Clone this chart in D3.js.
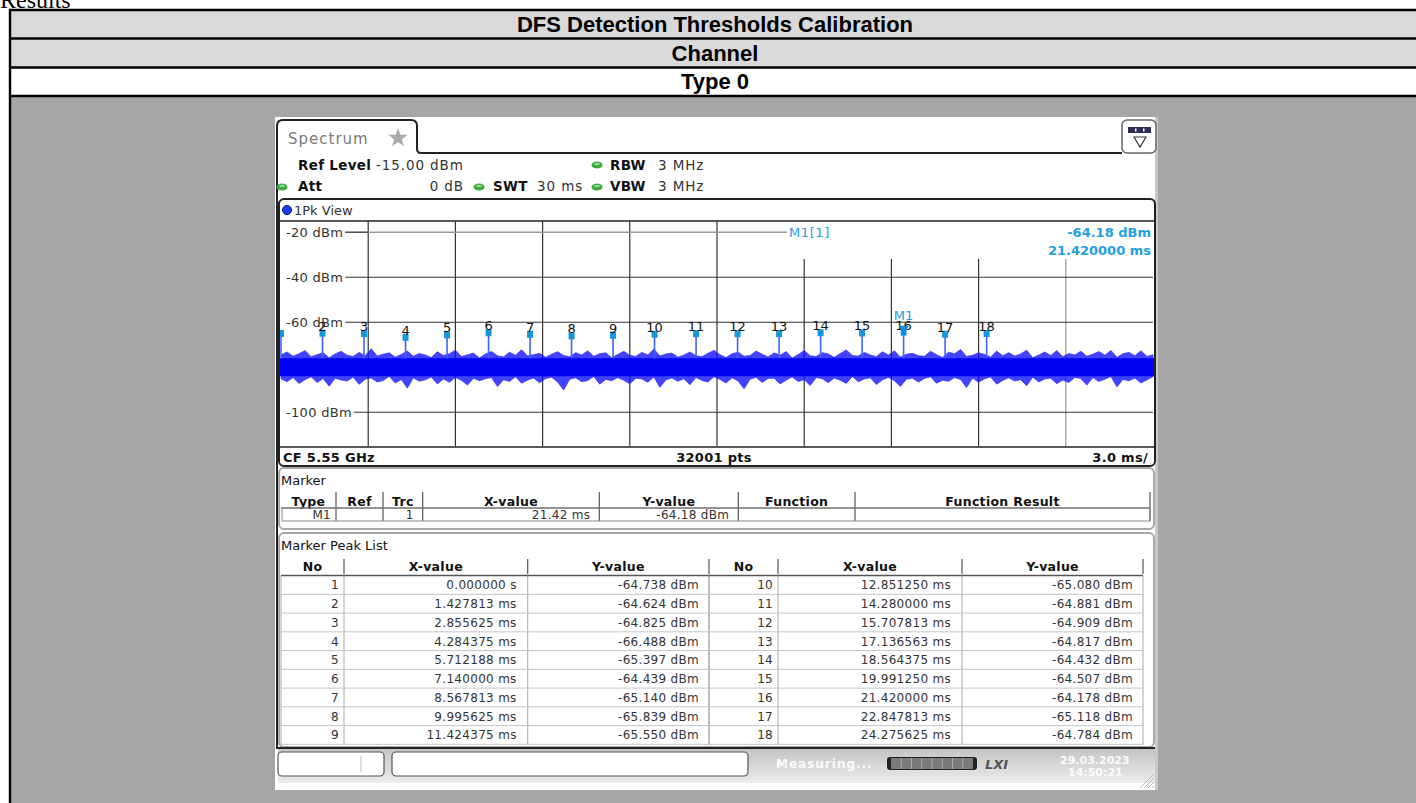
<!DOCTYPE html>
<html>
<head>
<meta charset="utf-8">
<script src="https://cdn.jsdelivr.net/npm/d3@7"></script>
<style>
  html, body { margin: 0; padding: 0; background: #fff; overflow: hidden; }
  svg { display: block; }
</style>
</head>
<body>
<div id="chart"></div>
<script>
// ---- data ----
var titleRows = ["DFS Detection Thresholds Calibration", "Channel", "Type 0"];

var peakNo = [1, 2, 3, 4, 5, 6, 7, 8, 9, 10, 11, 12, 13, 14, 15, 16, 17, 18];
var peakTimeMs = [0, 1.427813, 2.855625, 4.284375, 5.712188, 7.140000, 8.567813, 9.995625, 11.424375,
                  12.851250, 14.280000, 15.707813, 17.136563, 18.564375, 19.991250, 21.420000, 22.847813, 24.275625];
var peakLevelDbm = [-64.738, -64.624, -64.825, -66.488, -65.397, -64.439, -65.140, -65.839, -65.550,
                    -65.080, -64.881, -64.909, -64.817, -64.432, -64.507, -64.178, -65.118, -64.784];

var levelTicks = [-20, -40, -60, -80, -100];
var timeGridMs = [3, 6, 9, 12, 15, 18, 21, 24, 27];

// noise floor: dense core and the envelope of the spikes, read across the 30 ms sweep
var noiseCoreDbm = [-76.0, -84.0];
var noiseUpperDbm = [
  -74.6,-73.2,-75.1,-74.0,-72.6,-75.3,-74.4,-73.5,-75.8,-74.1,
  -72.9,-74.7,-75.2,-73.4,-74.9,-71.8,-75.0,-74.2,-73.6,-75.5,
  -74.3,-72.8,-75.1,-73.9,-74.6,-75.7,-73.1,-74.8,-74.0,-72.4,
  -75.2,-74.5,-73.7,-75.9,-74.1,-73.0,-74.9,-75.4,-73.3,-74.7,
  -72.2,-75.0,-74.4,-73.8,-75.6,-74.2,-73.1,-74.8,-75.3,-73.5,
  -74.6,-72.7,-75.1,-74.0,-73.6,-75.8,-74.3,-72.9,-74.7,-75.2,
  -73.4,-74.5,-71.9,-75.0,-74.1,-73.7,-75.5,-74.6,-73.2,-74.9,
  -75.3,-73.8,-72.5,-74.4,-75.7,-74.0,-73.3,-75.1,-74.8,-72.8,
  -74.2,-75.4,-73.6,-74.7,-73.0,-75.9,-74.3,-72.6,-74.9,-75.2,
  -73.5,-74.1,-75.6,-73.9,-72.3,-74.8,-75.0,-73.4,-74.5,-75.3,
  -73.1,-74.6,-72.7,-75.5,-74.2,-73.8,-74.9,-75.1,-72.9,-74.4,
  -75.7,-73.3,-74.0,-72.1,-75.2,-74.7,-73.6,-74.3,-75.4,-72.8,
  -74.9,-73.5,-75.0,-74.1,-72.4,-75.8,-74.6,-73.2,-74.8,-72.6,
  -75.3,-73.9,-74.5,-72.9,-75.1,-74.2,-73.0,-74.7,-72.5,-75.6,
  -74.0,-73.4,-74.9,-72.7,-75.2,-74.4];
var noiseLowerDbm = [
  -85.1,-86.4,-84.6,-87.2,-85.5,-84.2,-86.8,-85.0,-88.4,-84.9,
  -85.7,-86.1,-84.4,-87.6,-85.3,-84.8,-86.5,-85.9,-84.1,-87.0,
  -85.4,-89.3,-84.7,-86.2,-85.6,-84.3,-87.4,-85.2,-86.7,-84.5,
  -85.8,-87.9,-84.9,-86.0,-85.1,-84.6,-88.6,-85.5,-86.3,-84.2,
  -87.1,-85.7,-84.8,-86.9,-85.0,-84.4,-86.6,-90.1,-85.3,-84.7,
  -86.4,-85.9,-84.1,-87.5,-85.4,-86.0,-84.6,-85.8,-87.3,-84.9,
  -85.2,-86.7,-84.3,-88.9,-85.6,-84.8,-86.2,-85.1,-87.8,-84.5,
  -85.9,-86.5,-84.2,-85.4,-87.0,-84.7,-86.1,-89.6,-85.3,-84.4,
  -86.8,-85.0,-84.9,-87.4,-85.7,-84.3,-86.3,-85.5,-88.1,-84.6,
  -85.1,-86.9,-84.8,-85.8,-87.2,-84.1,-86.4,-85.2,-84.7,-87.7,
  -85.6,-84.5,-86.0,-88.5,-85.3,-84.9,-86.6,-85.0,-84.2,-87.1,
  -85.8,-86.2,-84.6,-85.4,-89.0,-84.8,-86.7,-85.1,-84.3,-87.5,
  -85.9,-84.7,-86.1,-85.5,-88.2,-84.4,-86.5,-85.2,-84.9,-87.3,
  -85.7,-86.8,-84.5,-85.0,-87.9,-84.6,-86.3,-85.3,-84.1,-88.7,
  -85.4,-86.0,-84.8,-87.0,-85.6,-84.2];

var markerColumns = ["Type", "Ref", "Trc", "X-value", "Y-value", "Function", "Function Result"];
var markerValues = ["M1", "", "1", "21.42 ms", "-64.18 dBm", "", ""];
var peakColumns = ["No", "X-value", "Y-value"];
var m1Peak = 16;

// ---- drawing ----
var W = 1416, H = 803;
var inst = '"DejaVu Sans", Verdana, sans-serif';
var loc = d3.formatLocale({ decimal: ".", thousands: ",", grouping: [3], currency: ["", ""], minus: "-" });
var f2 = loc.format(".2f"), f3 = loc.format(".3f"), f6 = loc.format(".6f");

var svg = d3.select("#chart").append("svg").attr("width", W).attr("height", H);
svg.append("rect").attr("width", W).attr("height", H).attr("fill", "#fff");

svg.append("text").attr("x", 0).attr("y", 8)
  .style("font-family", '"Liberation Serif", "Times New Roman", serif')
  .style("font-size", "24px").attr("fill", "#000").text("Results");

// document table
var rowY = [10, 38.5, 67.5, 96, 810];
var rowFill = ["#d9d9d9", "#d9d9d9", "#ffffff", "#a6a6a6"];
rowFill.forEach(function (f, i) {
  svg.append("rect").attr("x", 10).attr("y", rowY[i]).attr("width", W).attr("height", rowY[i + 1] - rowY[i]).attr("fill", f);
});
rowY.slice(0, 4).forEach(function (y) {
  svg.append("line").attr("x1", 9).attr("x2", W).attr("y1", y).attr("y2", y).attr("stroke", "#000").attr("stroke-width", 2.4);
});
svg.append("line").attr("x1", 10).attr("x2", 10).attr("y1", 9).attr("y2", H).attr("stroke", "#000").attr("stroke-width", 2.4);
titleRows.forEach(function (t, i) {
  svg.append("text").attr("x", 715).attr("y", (rowY[i] + rowY[i + 1]) / 2 + 7.5)
    .attr("text-anchor", "middle")
    .style("font-family", '"Liberation Sans", Arial, sans-serif')
    .style("font-size", "22px").style("font-weight", "bold").text(t);
});

// instrument screenshot
var g = svg.append("g").style("font-family", inst);
g.append("rect").attr("x", 275).attr("y", 117).attr("width", 883).attr("height", 673).attr("fill", "#fff");
g.append("rect").attr("x", 1155).attr("y", 117).attr("width", 3).attr("height", 673).attr("fill", "#c8c8c8");

// tab
g.append("path")
  .attr("d", "M277,748 L277,126 Q277,120 283,120 L411,120 Q417,120 417,126 L417,149 Q417,153 421,153 L1122,153")
  .attr("fill", "none").attr("stroke", "#222").attr("stroke-width", 2);
g.append("text").attr("x", 288).attr("y", 144).attr("fill", "#7a7a7a")
  .style("font-size", "15px").style("letter-spacing", "1px").text("Spectrum");
g.append("path").attr("transform", "translate(398,138)")
  .attr("d", d3.symbol(d3.symbolStar, 120)()).attr("fill", "#aaa");

// settings button
g.append("rect").attr("x", 1122).attr("y", 120).attr("width", 34).attr("height", 33).attr("rx", 5)
  .attr("fill", "#fff").attr("stroke", "#666").attr("stroke-width", 1.5);
g.append("rect").attr("x", 1128).attr("y", 127).attr("width", 23).attr("height", 6).attr("fill", "#2d2d55");
[1135, 1143].forEach(function (x) {
  g.append("rect").attr("x", x).attr("y", 128.5).attr("width", 1.5).attr("height", 3).attr("fill", "#fff");
});
g.append("path").attr("d", "M1134,137 L1146,137 L1140,147 Z").attr("fill", "none").attr("stroke", "#333").attr("stroke-width", 1.2);

// settings lines
function dot(x, y) {
  g.append("ellipse").attr("cx", x).attr("cy", y).attr("rx", 5.5).attr("ry", 3.6).attr("fill", "#3caa3c");
  g.append("ellipse").attr("cx", x).attr("cy", y - 1).attr("rx", 3).attr("ry", 1.3).attr("fill", "#8fd88f");
}
function lbl(x, y, t, bold, anchor) {
  g.append("text").attr("x", x).attr("y", y).attr("text-anchor", anchor || "start")
    .attr("fill", bold ? "#111" : "#333")
    .style("font-size", "13.5px").style("font-weight", bold ? "bold" : "normal")
    .style("letter-spacing", bold ? "0.3px" : "0.9px").text(t);
}
lbl(298, 170, "Ref Level", true); lbl(376, 170, "-15.00 dBm");
dot(597, 165); lbl(610, 170, "RBW", true); lbl(658, 170, "3 MHz");
dot(282, 187); lbl(298, 191, "Att", true); lbl(464, 191, "0 dB", false, "end");
dot(479, 187); lbl(493, 191, "SWT", true); lbl(537, 191, "30 ms");
dot(597, 187); lbl(610, 191, "VBW", true); lbl(658, 191, "3 MHz");

// plot frame
g.append("rect").attr("x", 279).attr("y", 199).attr("width", 876).attr("height", 267).attr("rx", 5)
  .attr("fill", "#fff").attr("stroke", "#222").attr("stroke-width", 2);
g.append("circle").attr("cx", 287).attr("cy", 210).attr("r", 4.5).attr("fill", "#1b3cf0").attr("stroke", "#001060");
g.append("text").attr("x", 294).attr("y", 215).attr("fill", "#333").style("font-size", "13px").text("1Pk View");

var x = d3.scaleLinear().domain([0, 30]).range([281, 1153]);
var y = d3.scaleLinear().domain([-15, -115]).range([221, 446]);

var plot = g.append("g");
plot.append("line").attr("x1", 279).attr("x2", 1155).attr("y1", 221).attr("y2", 221).attr("stroke", "#222").attr("stroke-width", 1.5);
plot.append("line").attr("x1", 279).attr("x2", 1155).attr("y1", 447).attr("y2", 447).attr("stroke", "#222").attr("stroke-width", 1.5);

// vertical grid: right part starts below the marker readout
timeGridMs.forEach(function (t, i) {
  plot.append("line").attr("x1", x(t)).attr("x2", x(t))
    .attr("y1", i < 5 ? 221 : 259).attr("y2", 446)
    .attr("stroke", i === 8 ? "#9a9a9a" : "#333").attr("stroke-width", 1.2);
});

// level labels and horizontal grid
levelTicks.forEach(function (v) {
  var t = plot.append("text").attr("x", 286).attr("y", y(v) + 4.5).attr("fill", "#333")
    .style("font-size", "13px").style("letter-spacing", "0.3px").text(v + " dBm");
  var x0 = 286 + t.node().getComputedTextLength() + 2;
  if (v === -20) {
    plot.append("line").attr("x1", x0).attr("x2", 787).attr("y1", y(v)).attr("y2", y(v)).attr("stroke", "#999").attr("stroke-width", 1.5);
    plot.append("line").attr("x1", x0).attr("x2", x(3)).attr("y1", y(v)).attr("y2", y(v)).attr("stroke", "#444").attr("stroke-width", 1.2);
  } else {
    plot.append("line").attr("x1", x0).attr("x2", 1153).attr("y1", y(v)).attr("y2", y(v)).attr("stroke", "#333").attr("stroke-width", 1.2);
  }
});

// trace
svg.append("clipPath").attr("id", "pclip").append("rect").attr("x", 280).attr("y", 222).attr("width", 874).attr("height", 224);
var trace = plot.append("g").attr("clip-path", "url(#pclip)");
var nN = noiseUpperDbm.length;
var tN = function (i) { return x(i * 30 / (nN - 1)); };
var area = d3.area()
  .x(function (d, i) { return tN(i); })
  .y0(function (d, i) { return y(noiseLowerDbm[i]); })
  .y1(function (d) { return y(d); });
trace.append("path").attr("d", area(noiseUpperDbm)).attr("fill", "#1414ff").attr("fill-opacity", 0.8)
  .attr("stroke", "#2a2aff").attr("stroke-width", 0.7);
trace.append("rect").attr("x", 280).attr("width", 874)
  .attr("y", y(noiseCoreDbm[0])).attr("height", y(noiseCoreDbm[1]) - y(noiseCoreDbm[0])).attr("fill", "#0000f5");

// peaks
trace.selectAll(".stem").data(peakTimeMs).enter().append("line")
  .attr("x1", function (d) { return x(d); }).attr("x2", function (d) { return x(d); })
  .attr("y1", function (d, i) { return y(peakLevelDbm[i]); }).attr("y2", y(-76))
  .attr("stroke", "#3d63ff").attr("stroke-width", 1.6);
trace.selectAll(".pk").data(peakTimeMs).enter().append("rect")
  .attr("x", function (d) { return x(d) - 3; })
  .attr("y", function (d, i) { return y(peakLevelDbm[i]) - 3; })
  .attr("width", 6).attr("height", 7).attr("fill", "#1597dc");
trace.selectAll(".pkl").data(peakTimeMs).enter().append("text")
  .filter(function (d) { return x(d) > 290; })
  .attr("x", function (d) { return x(d); })
  .attr("y", function (d) { return y(peakLevelDbm[peakTimeMs.indexOf(d)]) - 2; })
  .attr("text-anchor", "middle").attr("fill", "#111").style("font-size", "13px")
  .text(function (d) { return peakNo[peakTimeMs.indexOf(d)]; });

// M1 marker
var mx = x(peakTimeMs[m1Peak - 1]), my = y(peakLevelDbm[m1Peak - 1]);
trace.append("path").attr("d", "M" + (mx - 5) + "," + (my - 6) + " L" + (mx + 5) + "," + (my - 6) + " L" + mx + "," + (my + 4) + " Z")
  .attr("fill", "#178ad6");
trace.append("text").attr("x", mx).attr("y", my - 12).attr("text-anchor", "middle")
  .attr("fill", "#23a0e0").style("font-size", "13px").text("M1");

// marker readout
plot.append("text").attr("x", 789).attr("y", y(-20) + 4.5).attr("fill", "#23a0e0")
  .style("font-size", "13px").style("letter-spacing", "0.6px").text("M1[1]");
plot.append("text").attr("x", 1151).attr("y", y(-20) + 5).attr("text-anchor", "end").attr("fill", "#23a0e0")
  .style("font-size", "13px").style("font-weight", "bold").text(f2(peakLevelDbm[m1Peak - 1]) + " dBm");
plot.append("text").attr("x", 1151).attr("y", 255).attr("text-anchor", "end").attr("fill", "#23a0e0")
  .style("font-size", "13px").style("font-weight", "bold").text(f6(peakTimeMs[m1Peak - 1]) + " ms");

// footer of the diagram
[["CF 5.55 GHz", 283, "start"], ["32001 pts", 714, "middle"], ["3.0 ms/", 1148, "end"]].forEach(function (f) {
  g.append("text").attr("x", f[1]).attr("y", 462).attr("text-anchor", f[2]).attr("fill", "#111")
    .style("font-size", "13px").style("font-weight", "bold").style("letter-spacing", "0.3px").text(f[0]);
});

// marker table
g.append("rect").attr("x", 279).attr("y", 468).attr("width", 875).attr("height", 61).attr("rx", 5)
  .attr("fill", "#fff").attr("stroke", "#a8a8a8").attr("stroke-width", 2);
g.append("text").attr("x", 281).attr("y", 485).attr("fill", "#111").style("font-size", "13px").text("Marker");
var mB = [281, 336, 383, 422.7, 599.3, 738.3, 855, 1150];
markerColumns.forEach(function (c, i) {
  g.append("text").attr("x", (mB[i] + mB[i + 1]) / 2).attr("y", 506).attr("text-anchor", "middle")
    .attr("fill", "#111").style("font-size", "12.5px").style("font-weight", "bold").style("letter-spacing", "0.3px").text(c);
  if (i > 0) g.append("line").attr("x1", mB[i]).attr("x2", mB[i]).attr("y1", 492).attr("y2", 521).attr("stroke", "#555").attr("stroke-width", 1.2);
  g.append("text").attr("x", mB[i + 1] - (i === 0 ? 5 : 9)).attr("y", 518.5).attr("text-anchor", "end")
    .attr("fill", "#333").style("font-size", "12px").style("letter-spacing", "0.3px").text(markerValues[i]);
});
g.append("line").attr("x1", mB[7]).attr("x2", mB[7]).attr("y1", 492).attr("y2", 521).attr("stroke", "#555").attr("stroke-width", 1.2);
g.append("line").attr("x1", 281).attr("x2", 1150).attr("y1", 508).attr("y2", 508).attr("stroke", "#444").attr("stroke-width", 1.2);
g.append("rect").attr("x", 282).attr("y", 508).attr("width", 868).attr("height", 13).attr("fill", "none").attr("stroke", "#888");

// peak list
g.append("rect").attr("x", 279).attr("y", 533).attr("width", 875).attr("height", 214).attr("rx", 5)
  .attr("fill", "#fff").attr("stroke", "#a8a8a8").attr("stroke-width", 2);
g.append("text").attr("x", 281).attr("y", 550).attr("fill", "#111").style("font-size", "13px").text("Marker Peak List");
var halves = [[281, 344, 527.7, 709], [709, 778, 962, 1143]];
var rowH = 18.75, row0 = 575.6;
halves.forEach(function (b, h) {
  peakColumns.forEach(function (c, i) {
    g.append("text").attr("x", (b[i] + b[i + 1]) / 2).attr("y", 571).attr("text-anchor", "middle")
      .attr("fill", "#111").style("font-size", "12.5px").style("font-weight", "bold").style("letter-spacing", "0.3px").text(c);
    g.append("line").attr("x1", b[i + 1]).attr("x2", b[i + 1]).attr("y1", 559).attr("y2", 574).attr("stroke", "#555").attr("stroke-width", 1.2);
  });
  b.forEach(function (bx) {
    g.append("line").attr("x1", bx).attr("x2", bx).attr("y1", row0).attr("y2", row0 + 9 * rowH).attr("stroke", "#aaa");
  });
  d3.range(10).forEach(function (r) {
    g.append("line").attr("x1", b[0]).attr("x2", b[3]).attr("y1", row0 + r * rowH).attr("y2", row0 + r * rowH)
      .attr("stroke", r === 0 ? "#555" : "#c4c4c4").attr("stroke-width", r === 0 ? 1.5 : 1);
  });
  var idx = d3.range(h * 9, h * 9 + 9);
  var rows = g.selectAll(".r" + h).data(idx).enter().append("g")
    .attr("transform", function (d, r) { return "translate(0," + (row0 + r * rowH + rowH / 2 + 4.3) + ")"; })
    .style("font-size", "12px").style("letter-spacing", "0.3px").attr("fill", "#333");
  rows.append("text").attr("x", b[1] - 5).attr("text-anchor", "end").text(function (d) { return peakNo[d]; });
  rows.append("text").attr("x", b[2] - 11).attr("text-anchor", "end")
    .text(function (d) { return peakTimeMs[d] === 0 ? "0.000000 s" : f6(peakTimeMs[d]) + " ms"; });
  rows.append("text").attr("x", b[3] - 10).attr("text-anchor", "end")
    .text(function (d) { return f3(peakLevelDbm[d]) + " dBm"; });
});

// status bar
var grad = svg.append("defs").append("linearGradient").attr("id", "sb").attr("x1", 0).attr("x2", 0).attr("y1", 0).attr("y2", 1);
grad.append("stop").attr("offset", 0).attr("stop-color", "#c4c4c4");
grad.append("stop").attr("offset", 1).attr("stop-color", "#ececec");
g.append("rect").attr("x", 278).attr("y", 749).attr("width", 877).attr("height", 34).attr("fill", "url(#sb)");
g.append("line").attr("x1", 276).attr("x2", 1155).attr("y1", 748).attr("y2", 748).attr("stroke", "#222").attr("stroke-width", 2);
g.append("rect").attr("x", 278).attr("y", 752).attr("width", 106).attr("height", 24).attr("rx", 4)
  .attr("fill", "#fff").attr("stroke", "#555").attr("stroke-width", 1.2);
g.append("line").attr("x1", 361).attr("x2", 361).attr("y1", 756).attr("y2", 772).attr("stroke", "#bbb");
g.append("rect").attr("x", 392).attr("y", 752).attr("width", 356).attr("height", 24).attr("rx", 4)
  .attr("fill", "#fff").attr("stroke", "#555").attr("stroke-width", 1.2);
g.append("text").attr("x", 776).attr("y", 768).attr("fill", "#fafafa").style("font-size", "12px")
  .style("font-weight", "bold").style("letter-spacing", "1px").text("Measuring...");
g.append("rect").attr("x", 887).attr("y", 757).attr("width", 90).attr("height", 13).attr("rx", 3).attr("fill", "#222");
g.append("rect").attr("x", 891).attr("y", 758).attr("width", 82).attr("height", 11).attr("fill", "#7a7a7a");
d3.range(1, 8).forEach(function (k) {
  g.append("line").attr("x1", 891 + k * 10.25).attr("x2", 891 + k * 10.25).attr("y1", 758).attr("y2", 769).attr("stroke", "#aaa");
});
g.append("text").attr("x", 985).attr("y", 769).attr("fill", "#555").style("font-size", "13px")
  .style("font-weight", "bold").style("font-style", "italic").text("LXI");
g.append("text").attr("x", 1060).attr("y", 764).attr("fill", "#fbfbfb").style("font-size", "11px")
  .style("font-weight", "bold").text("29.03.2023");
g.append("text").attr("x", 1068).attr("y", 776).attr("fill", "#fbfbfb").style("font-size", "11px")
  .style("font-weight", "bold").text("14:50:21");
d3.range(4).forEach(function (k) {
  g.append("line").attr("x1", 1140 + k * 4).attr("y1", 788).attr("x2", 1154).attr("y2", 774 + k * 4)
    .attr("stroke", "#bbb");
});
</script>
</body>
</html>
